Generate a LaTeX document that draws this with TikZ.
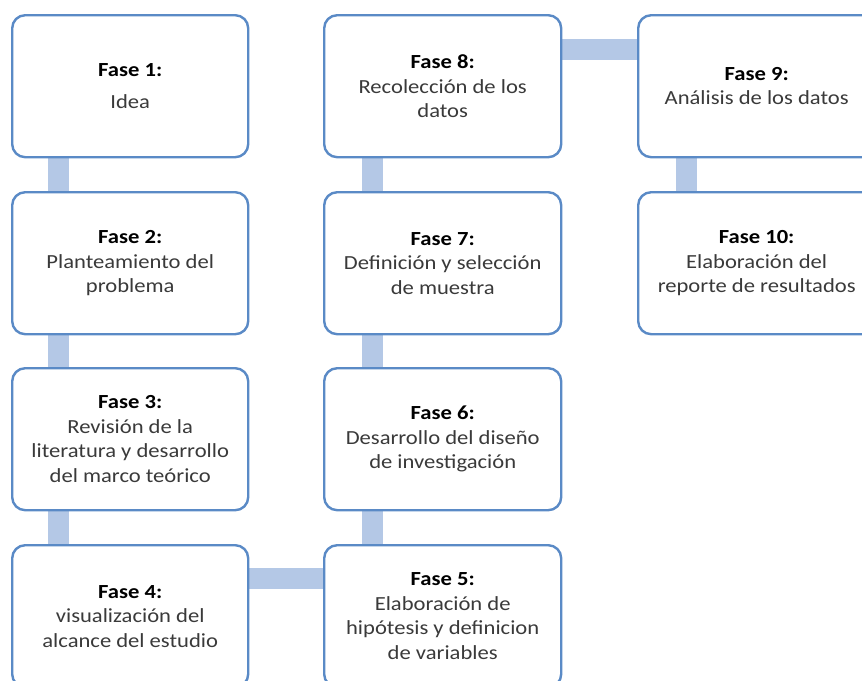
\documentclass[tikz,border=0pt]{standalone}
\usepackage{fontspec}
\setmainfont{Carlito}[FakeStretch=1.13]
\definecolor{edgeblue}{HTML}{5A8AC6}
\definecolor{linkblue}{HTML}{B4C8E6}
\definecolor{txtgray}{HTML}{3A3A3A}
\pgfdeclarelayer{bg}
\pgfsetlayers{bg,main}
\tikzset{
  phase/.style={draw=edgeblue, line width=2.4pt, rounded corners=13pt, fill=white,
    minimum width=236pt, minimum height=142pt, anchor=north west, align=center,
    inner sep=0pt, text=txtgray, font=\fontsize{20}{24.5}\selectfont},
  linkbar/.style={draw=linkblue, line width=21pt},
}
\newcommand{\fasehead}[1]{{\bfseries\color{black}Fase #1:}}
\begin{document}
\begin{tikzpicture}[x=1pt,y=-1pt]
\useasboundingbox (0,0) rectangle (862,680);
\clip (0,0) rectangle (862,680);
\node[phase] (b1) at (11,14) {\fasehead{1}\\[8pt]Idea};
\node[phase] (b2) at (11,191) {\fasehead{2}\\Planteamiento del\\problema};
\node[phase] (b3) at (11,367) {\fasehead{3}\\Revisión de la\\literatura y desarrollo\\del marco teórico};
\node[phase] (b4) at (11,544) {\fasehead{4}\\visualización del\\alcance del estudio};
\node[phase, minimum width=237pt] (b5) at (323,544) {\fasehead{5}\\Elaboración de\\hipótesis y definicion\\de variables};
\node[phase, minimum width=237pt] (b6) at (323,367) {\fasehead{6}\\Desarrollo del diseño\\de investigación};
\node[phase, minimum width=237pt] (b7) at (323,191) {\fasehead{7}\\Definición y selección\\de muestra};
\node[phase, minimum width=237pt] (b8) at (323,14) {\fasehead{8}\\Recolección de los\\datos};
\node[phase, minimum width=237pt] (b9) at (637,14) {\fasehead{9}\\Análisis de los datos};
\node[phase, minimum width=237pt] (b10) at (637,191) {\fasehead{10}\\Elaboración del\\reporte de resultados};
\begin{pgfonlayer}{bg}
\draw[linkbar] ([xshift=47.5pt]b1.south west) -- ([xshift=47.5pt]b2.north west);
\draw[linkbar] ([xshift=47.5pt]b2.south west) -- ([xshift=47.5pt]b3.north west);
\draw[linkbar] ([xshift=47.5pt]b3.south west) -- ([xshift=47.5pt]b4.north west);
\draw[linkbar] ([yshift=-34.5pt]b4.north east) -- ([yshift=-34.5pt]b5.north west);
\draw[linkbar] ([xshift=49.5pt]b5.north west) -- ([xshift=49.5pt]b6.south west);
\draw[linkbar] ([xshift=49.5pt]b6.north west) -- ([xshift=49.5pt]b7.south west);
\draw[linkbar] ([xshift=49.5pt]b7.north west) -- ([xshift=49.5pt]b8.south west);
\draw[linkbar] ([yshift=-35pt]b8.north east) -- ([yshift=-35pt]b9.north west);
\draw[linkbar] ([xshift=49pt]b9.south west) -- ([xshift=49pt]b10.north west);
\end{pgfonlayer}
\end{tikzpicture}
\end{document}
